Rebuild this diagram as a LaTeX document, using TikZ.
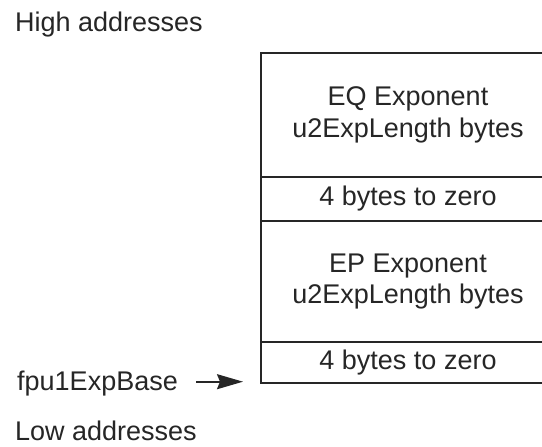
\documentclass[tikz,border=0pt]{standalone}
\usepackage{fontspec}
\setmainfont{Liberation Sans}
\usetikzlibrary{arrows.meta}
\definecolor{ink}{HTML}{262626}
\begin{document}
\begin{tikzpicture}[x=1pt,y=-1pt,
  lbl/.style={inner sep=0pt,text=ink,font=\fontsize{27}{31}\selectfont},
  cell/.style={draw=ink,line width=1.7pt,minimum width=294pt,inner sep=0pt,outer sep=0pt,
    text=ink,align=center,font=\fontsize{27}{31.5}\selectfont,anchor=north west},
  ptr/.style={draw=ink,line width=1.6pt,-{Stealth[length=26pt,width=15pt,inset=3pt]}}]
\clip (0,0) rectangle (542,447);
\fill[white] (0,0) rectangle (542,447);
\node[cell,minimum height=124pt] (eq) at (261,52.7) {EQ Exponent\\u2ExpLength bytes};
\node[cell,minimum height=44.3pt] (z1) at (261,176.7) {4 bytes to zero};
\node[cell,minimum height=120.7pt] (ep) at (261,221) {EP Exponent\\u2ExpLength bytes};
\node[cell,minimum height=41pt] (z2) at (261,341.7) {4 bytes to zero};
\node[lbl,anchor=base west] (high) at (15,31.7) {High addresses};
\node[lbl,anchor=base west] (base) at (17,390) {fpu1ExpBase};
\node[lbl,anchor=base west] (low) at (15,440) {Low addresses};
\coordinate (tip) at ([xshift=-18pt,yshift=1pt]z2.south west);
\draw[ptr,shorten <=18pt] (base.east |- tip) -- (tip);
\end{tikzpicture}
\end{document}
